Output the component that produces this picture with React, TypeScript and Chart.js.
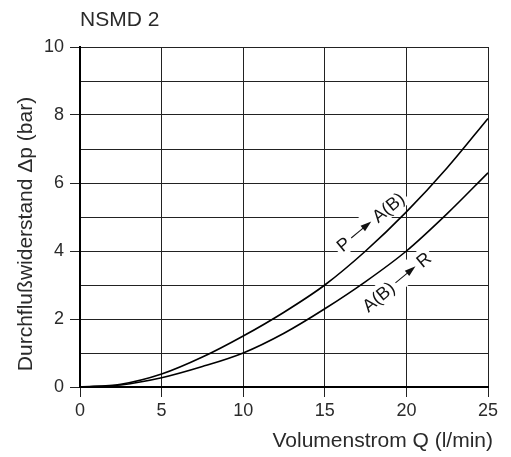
import React, { useEffect, useRef } from "react";
import { Chart, registerables } from "chart.js";

Chart.register(...registerables);

const flowValues = [0, 2.5, 5, 7.5, 10, 12.5, 15, 17.5, 20, 22.5, 25];
const pToA = [0, 0.08, 0.38, 0.88, 1.5, 2.2, 3.0, 4.0, 5.15, 6.45, 7.9];
const aToR = [0, 0.06, 0.27, 0.6, 1.0, 1.58, 2.3, 3.1, 4.0, 5.1, 6.3];
const xTicks = [0, 5, 10, 15, 20, 25];
const yTickLabels = [0, 2, 4, 6, 8, 10];
const chartTitle = "NSMD 2";
const xTitle = "Volumenstrom Q (l/min)";
const yTitle = "Durchflußwiderstand Δp (bar)";
const curveLabels = [
  { from: "P", to: "A(B)", x: 17.8, y: 4.85 },
  { from: "A(B)", to: "R", x: 19.4, y: 3.09 },
];

const FONT = "Liberation Sans, Arial, sans-serif";
const TEXT = "#2a2a2a";

const textPlugin = {
  id: "textPlugin",
  afterDatasetsDraw(chart: any) {
    const ctx = chart.ctx;
    const xs = chart.scales.x;
    const ys = chart.scales.y;
    const area = chart.chartArea;
    ctx.save();
    ctx.fillStyle = TEXT;
    ctx.font = `21px ${FONT}`;
    ctx.textBaseline = "middle";
    ctx.textAlign = "left";
    ctx.fillText(chartTitle, area.left, 20);
    ctx.textAlign = "right";
    ctx.fillText(xTitle, area.right + 5, 441);
    ctx.save();
    ctx.translate(26, 234);
    ctx.rotate(-Math.PI / 2);
    ctx.textAlign = "center";
    ctx.fillText(yTitle, 0, 0);
    ctx.restore();

    const angle = (-39.5 * Math.PI) / 180;
    curveLabels.forEach((lab) => {
      const px = xs.getPixelForValue(lab.x);
      const py = ys.getPixelForValue(lab.y);
      ctx.save();
      ctx.translate(px, py);
      ctx.rotate(angle);
      ctx.font = `18px ${FONT}`;
      const w1 = ctx.measureText(lab.from).width;
      const w2 = ctx.measureText(lab.to).width;
      const gap = 4;
      const arrowLen = 26;
      const total = w1 + gap + arrowLen + gap + w2;
      const start = -total / 2;
      ctx.fillStyle = "#fff";
      ctx.fillRect(start - 3, -11, total + 6, 21);
      ctx.fillStyle = "#111";
      ctx.strokeStyle = "#111";
      ctx.textAlign = "left";
      ctx.textBaseline = "middle";
      ctx.fillText(lab.from, start, 1);
      const a0 = start + w1 + gap;
      const a1 = a0 + arrowLen;
      ctx.lineWidth = 1;
      ctx.beginPath();
      ctx.moveTo(a0, 0);
      ctx.lineTo(a1 - 9, 0);
      ctx.stroke();
      ctx.beginPath();
      ctx.moveTo(a1, 0);
      ctx.lineTo(a1 - 11, -3.5);
      ctx.lineTo(a1 - 11, 3.5);
      ctx.closePath();
      ctx.fill();
      ctx.fillText(lab.to, a1 + gap, 1);
      ctx.restore();
    });
    ctx.restore();
  },
};

export default function App() {
  const ref = useRef<HTMLCanvasElement>(null);
  useEffect(() => {
    document.body.style.margin = "0";
    const canvas = ref.current!;
    const mk = (vals: number[]) => flowValues.map((x, i) => ({ x, y: vals[i] }));
    const chart = new Chart(canvas, {
      type: "line",
      data: {
        datasets: [
          {
            label: "P → A(B)",
            data: mk(pToA),
            borderColor: "#000",
            borderWidth: 1.6,
            pointRadius: 0,
            cubicInterpolationMode: "monotone",
            fill: false,
          },
          {
            label: "A(B) → R",
            data: mk(aToR),
            borderColor: "#000",
            borderWidth: 1.6,
            pointRadius: 0,
            cubicInterpolationMode: "monotone",
            fill: false,
          },
        ],
      },
      options: {
        animation: false,
        responsive: false,
        events: [],
        layout: { padding: { top: 47, right: 23, left: 0, bottom: 0 } },
        plugins: {
          legend: { display: false },
          title: { display: false },
          tooltip: { enabled: false },
        },
        scales: {
          x: {
            type: "linear",
            min: 0,
            max: 25,
            afterFit: (s: any) => {
              s.height = 70;
            },
            afterBuildTicks: (s: any) => {
              s.ticks = xTicks.map((v) => ({ value: v }));
            },
            ticks: {
              padding: 3,
              color: TEXT,
              font: { family: FONT, size: 18 },
              maxRotation: 0,
            },
            grid: {
              color: "#222",
              lineWidth: 1,
              tickLength: 10,
              tickColor: "#222",
            },
            border: { color: "#000", width: 2 },
          },
          y: {
            type: "linear",
            min: 0,
            max: 10,
            afterFit: (s: any) => {
              s.width = 80;
            },
            ticks: {
              stepSize: 1,
              padding: 6,
              color: TEXT,
              font: { family: FONT, size: 18 },
              callback: (v: any) => (yTickLabels.includes(Number(v)) ? String(v) : ""),
            },
            grid: {
              color: "#222",
              lineWidth: 1,
              tickLength: 10,
              tickColor: (c: any) =>
                c.tick && yTickLabels.includes(c.tick.value) ? "#222" : "rgba(0,0,0,0)",
            },
            border: { color: "#000", width: 2 },
          },
        },
      },
      plugins: [textPlugin],
    } as any);
    return () => chart.destroy();
  }, []);
  return <canvas ref={ref} width={511} height={457} style={{ display: "block" }} />;
}
